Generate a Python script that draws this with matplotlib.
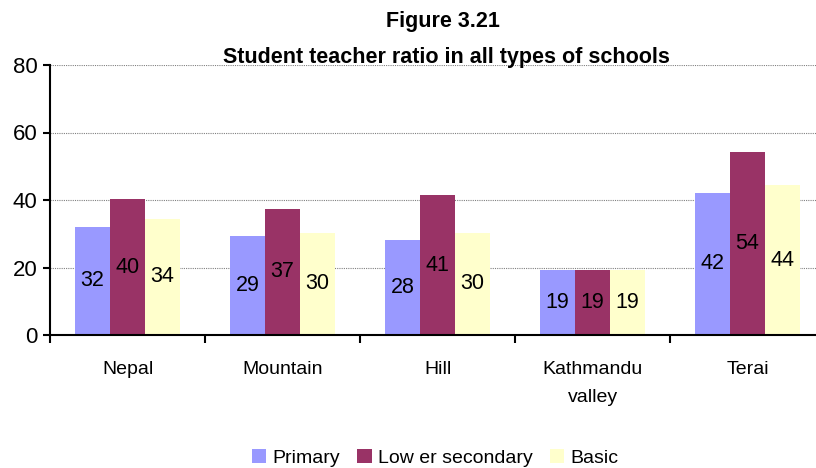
import numpy as np
import matplotlib
matplotlib.use('Agg')
import matplotlib.pyplot as plt
from matplotlib.ticker import FixedLocator

plt.rcParams['font.family'] = ['Liberation Sans', 'DejaVu Sans']

categories = ['Nepal', 'Mountain', 'Hill', 'Kathmandu\nvalley', 'Terai']
primary = [32.0, 29.4, 28.2, 19.4, 42.1]
lower_secondary = [40.2, 37.4, 41.4, 19.4, 54.2]
basic = [34.4, 30.3, 30.3, 19.4, 44.4]

series = [
    ('Primary', primary, '#9999FF'),
    ('Low er secondary', lower_secondary, '#993366'),
    ('Basic', basic, '#FFFFCC'),
]

fig = plt.figure(figsize=(8.16, 4.68), dpi=100)
ax = fig.add_axes([50 / 816, 1 - 335 / 468, 775 / 816, 270 / 468])

x = np.arange(len(categories))
width = 0.226
for i, (name, vals, color) in enumerate(series):
    bars = ax.bar(x + (i - 1) * width, vals, width, color=color, label=name,
                  zorder=2)
    for b, v in zip(bars, vals):
        ax.text(b.get_x() + b.get_width() / 2, v / 2, '%.0f' % v,
                ha='center', va='center', fontsize=15.5, zorder=3)

ax.set_xlim(-0.5, len(categories) - 0.5)
ax.set_ylim(0, 80)
ax.set_yticks([0, 20, 40, 60, 80])
ax.yaxis.grid(True, color='#808080', linestyle=(0, (1, 1)), linewidth=0.8,
              zorder=0)
ax.set_axisbelow(True)

ax.set_xticks(x)
ax.set_xticklabels(categories, fontsize=14, linespacing=1.85)
ax.xaxis.set_minor_locator(FixedLocator(np.arange(-0.5, len(categories), 1.0)))
ax.tick_params(axis='x', which='major', length=0, pad=19)
ax.tick_params(axis='x', which='minor', length=6, width=1.5, direction='out')
ax.tick_params(axis='y', length=5, width=1.5, direction='out', labelsize=16,
               pad=4)

for side in ('top', 'right'):
    ax.spines[side].set_visible(False)
ax.spines['left'].set_linewidth(1.5)
ax.spines['bottom'].set_linewidth(1.5)

fig.text(443 / 816, 1 - 22 / 468, 'Figure 3.21', ha='center', va='center',
         fontsize=15.5, fontweight='bold')
fig.text(446 / 816, 1 - 57 / 468, 'Student teacher ratio in all types of schools',
         ha='center', va='center', fontsize=15.5, fontweight='bold')

fig.legend(loc='center', bbox_to_anchor=(435 / 816, 1 - 458 / 468), ncol=3,
           frameon=False, fontsize=14, handlelength=0.75, handleheight=0.75,
           handletextpad=0.3, columnspacing=0.9)

fig.savefig('out.png', dpi=100)
